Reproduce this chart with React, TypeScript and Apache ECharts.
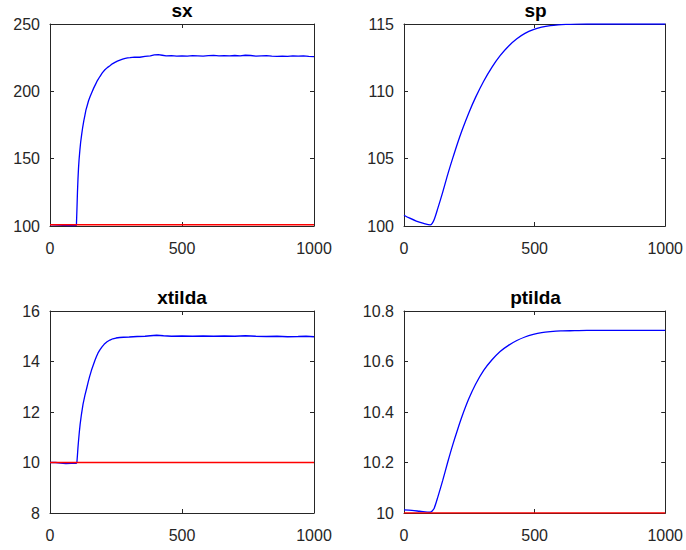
import React, { useEffect, useRef } from "react";
import * as echarts from "echarts";

// ---------- data ----------
const titles = ["sx", "sp", "xtilda", "ptilda"];

const sxBlue: [number, number][] = [
  [0, 101], [10, 100.8], [30, 100.6], [50, 100.4], [70, 100.3], [90, 100.3], [100, 100.4],
  [102, 112], [104, 125], [106, 135], [108, 143], [110, 149], [113, 156], [116, 162],
  [120, 168], [124, 173.5], [128, 178], [132, 182], [136, 186], [141, 189.5], [146, 193],
  [152, 196.2], [158, 199], [165, 202.2], [172, 205], [180, 208.2], [189, 211],
  [198, 213.7], [208, 216], [217, 217.6], [227, 219], [236, 220.4], [246, 221.5],
  [255, 222.4], [265, 223.2], [275, 223.9], [285, 224.5], [294, 224.8], [303, 225],
  [320, 225.4], [340, 225.3], [360, 225.9], [380, 226.3],
  [395, 227], [410, 227.2], [425, 226.8], [440, 226.3], [460, 226.5], [480, 226.2],
  [500, 226.4], [520, 226.2], [540, 226.5], [560, 226.3], [580, 226.1], [600, 226.5],
  [620, 226.7], [640, 226.3], [660, 226.5], [680, 226.4], [700, 226.6], [720, 226.4],
  [740, 226.8], [760, 226.6], [780, 226.2], [800, 226.4], [820, 226.5], [840, 226.1],
  [860, 225.9], [880, 226.1], [900, 225.9], [920, 226.3], [940, 226.1], [960, 226.4],
  [980, 226.0], [1000, 225.8],
];
const sxRed: [number, number][] = [[0, 101], [1000, 101]];

const spBlue: [number, number][] = [
  [0, 100.8], [20, 100.6], [47, 100.37], [75, 100.2], [100, 100.08], [108, 100.2],
  [116, 100.5], [130, 101.35], [148, 102.5], [167, 103.8], [186, 105.0], [205, 106.15],
  [223, 107.15], [248, 108.4], [274, 109.55], [305, 110.75], [337, 111.8], [368, 112.65],
  [400, 113.35], [432, 113.9], [463, 114.3], [495, 114.58], [527, 114.76], [560, 114.88],
  [590, 114.94], [620, 114.97], [660, 114.99], [700, 115], [800, 115], [900, 115], [1000, 115],
];

const xtBlue: [number, number][] = [
  [0, 10], [20, 10], [40, 9.98], [60, 9.96], [80, 9.97], [100, 9.97], [102, 10.02],
  [104, 10.3], [106, 10.6], [108, 10.85], [111, 11.2], [114, 11.5], [119, 11.9],
  [125, 12.3], [132, 12.65], [139, 12.94], [145, 13.2], [150, 13.4], [157, 13.65],
  [164, 13.86], [170, 14.04], [176, 14.2], [182, 14.34], [189, 14.46], [197, 14.58],
  [205, 14.68], [216, 14.78], [227, 14.85], [238, 14.9], [250, 14.93], [264, 14.95],
  [278, 14.96], [300, 14.97], [330, 14.99], [360, 15.0], [380, 15.02], [404, 15.04],
  [430, 15.02], [460, 15.0], [500, 15.01], [540, 15.0], [580, 15.01], [620, 15.0],
  [660, 15.01], [700, 15.0], [740, 15.02], [780, 15.0], [820, 14.99], [860, 15.0],
  [900, 14.98], [940, 14.99], [970, 15.0], [1000, 14.98],
];
const xtRed: [number, number][] = [[0, 10], [1000, 10]];

const ptBlue: [number, number][] = [
  [0, 10.012], [30, 10.01], [60, 10.007], [100, 10.003], [108, 10.008], [116, 10.02],
  [130, 10.065], [148, 10.128], [167, 10.2], [186, 10.268], [205, 10.33], [223, 10.385],
  [248, 10.452], [274, 10.51], [305, 10.565], [337, 10.607], [368, 10.64], [400, 10.664],
  [432, 10.683], [463, 10.697], [495, 10.707], [527, 10.714], [560, 10.718], [600, 10.721],
  [653, 10.722], [700, 10.723], [800, 10.723], [1000, 10.723],
];
const ptRed: [number, number][] = [[0, 10], [1000, 10]];

const xRange = { min: 0, max: 1000, interval: 500 };
const yRanges = [
  { min: 100, max: 250, interval: 50 },
  { min: 100, max: 115, interval: 5 },
  { min: 8, max: 16, interval: 2 },
  { min: 10, max: 10.8, interval: 0.2 },
];
const blueSeries = [sxBlue, spBlue, xtBlue, ptBlue];
const blueSmooth = [false, 0.3, false, 0.3];
const redSeries: ([number, number][] | null)[] = [sxRed, null, xtRed, ptRed];

// ---------- layout ----------
const grids = [
  { left: 50, top: 24, width: 264, height: 202 },
  { left: 404, top: 24, width: 263, height: 202 },
  { left: 50, top: 311, width: 264, height: 202 },
  { left: 404, top: 311, width: 263, height: 202 },
];

const FONT = "'Liberation Sans', Arial, Helvetica, sans-serif";
const AX = "#262626";

const fmt = (v: number) => String(Math.round(v * 1000) / 1000);

export default function App() {
  const ref = useRef<HTMLDivElement>(null);
  useEffect(() => {
    if (!ref.current) return;
    const chart = echarts.init(ref.current, null, { renderer: "svg" });
    const xAxes: any[] = [];
    const yAxes: any[] = [];
    const series: any[] = [];
    const graphics: any[] = [];
    grids.forEach((g, i) => {
      const line = { show: true, onZero: false, lineStyle: { color: AX, width: 1 } };
      const tick = { show: true, inside: true, length: 4, lineStyle: { color: AX, width: 1 } };
      const lbl = { color: AX, fontSize: 16, fontFamily: FONT, formatter: fmt };
      xAxes.push({
        gridIndex: i, type: "value", position: "bottom", ...xRange,
        axisLine: line, axisTick: tick, splitLine: { show: false },
        axisLabel: { ...lbl, margin: 14 },
      });
      xAxes.push({
        gridIndex: i, type: "value", position: "top", ...xRange,
        axisLine: line, axisTick: tick, splitLine: { show: false },
        axisLabel: { show: false },
      });
      yAxes.push({
        gridIndex: i, type: "value", position: "left", ...yRanges[i],
        axisLine: line, axisTick: tick, splitLine: { show: false },
        axisLabel: { ...lbl, margin: 10 },
      });
      yAxes.push({
        gridIndex: i, type: "value", position: "right", ...yRanges[i],
        axisLine: line, axisTick: tick, splitLine: { show: false },
        axisLabel: { show: false },
      });
      series.push({
        type: "line", xAxisIndex: i * 2, yAxisIndex: i * 2, data: blueSeries[i],
        showSymbol: false, symbol: "none", smooth: blueSmooth[i],
        lineStyle: { color: "#0000ff", width: 1.3 },
        z: 2,
      });
      const red = redSeries[i];
      if (red) {
        series.push({
          type: "line", xAxisIndex: i * 2, yAxisIndex: i * 2, data: red,
          showSymbol: false, symbol: "none", lineStyle: { color: "#ff0000", width: 1.5 },
          z: 3,
        });
      }
      graphics.push({
        type: "text",
        x: g.left + g.width / 2,
        y: g.top - 14,
        style: {
          text: titles[i], align: "center", verticalAlign: "middle",
          fontSize: 19, fontWeight: "bold", fontFamily: FONT, fill: "#000",
        },
      });
    });
    chart.setOption({
      animation: false,
      backgroundColor: "#fff",
      grid: grids.map((g) => ({ ...g, containLabel: false })),
      xAxis: xAxes,
      yAxis: yAxes,
      series,
      graphic: graphics,
    });
    return () => chart.dispose();
  }, []);
  return (
    <div
      ref={ref}
      style={{ position: "fixed", left: 0, top: 0, width: 686, height: 550 }}
    />
  );
}
